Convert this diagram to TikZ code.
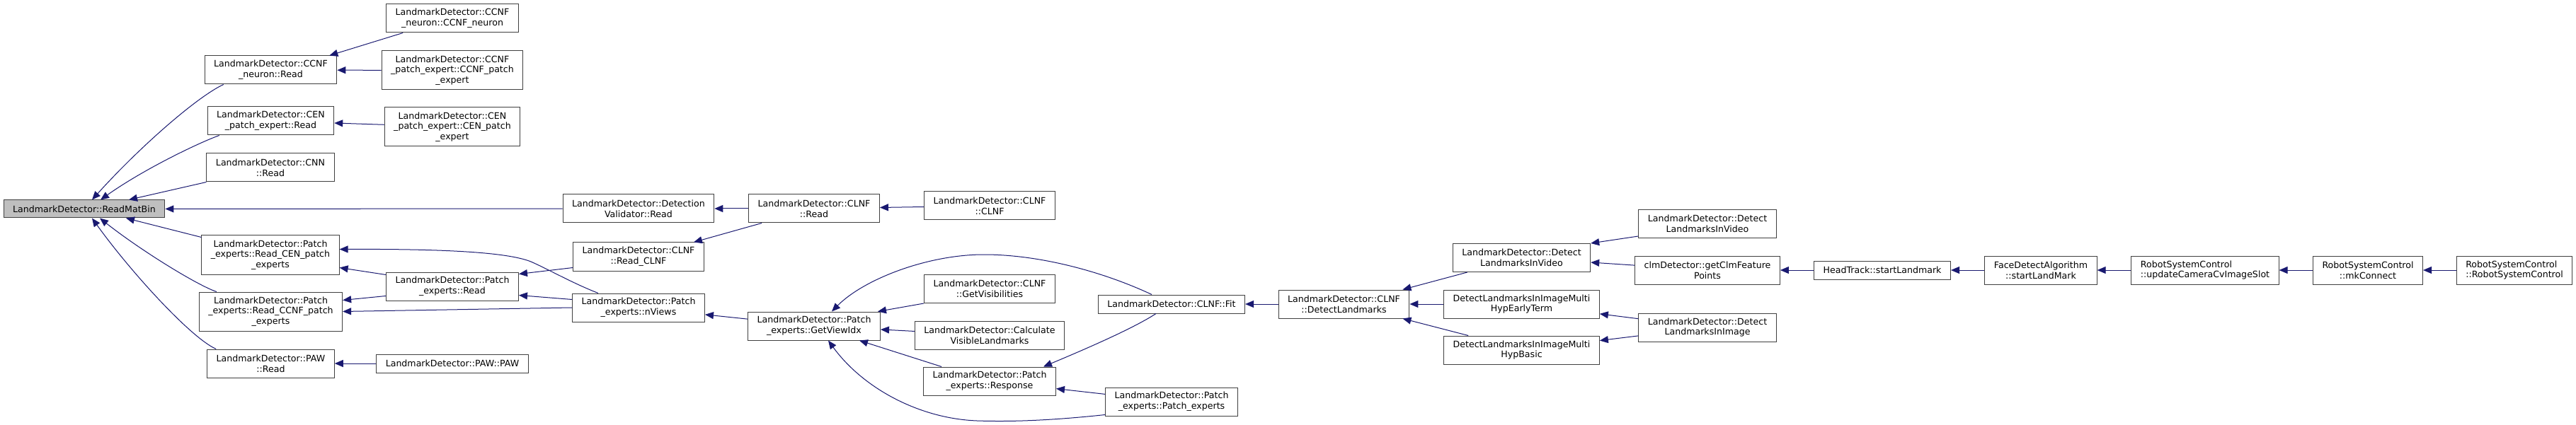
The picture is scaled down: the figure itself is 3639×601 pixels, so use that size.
\documentclass[tikz,border=0pt]{standalone}
\usepackage{fontspec}
\setmainfont{DejaVu Sans}
\usepackage{xcolor}
\usepackage{tikz}
\usetikzlibrary{arrows.meta, positioning}
\definecolor{edgeblue}{HTML}{191970}
\definecolor{boxline}{HTML}{404040}

\begin{document}
\begin{tikzpicture}[
                    x=1pt, y=-1pt,
                    box/.style={
                        draw=boxline,
                        fill=white,
                        line width=1pt,
                        minimum height=40pt,
                        inner xsep=13pt,
                        inner ysep=2pt,
                        align=center,
                        font=\fontsize{12.6}{14.7}\selectfont
                    },
                    onebox/.style={box, minimum height=26pt},
                    threebox/.style={box, minimum height=55pt},
                    mainbox/.style={box, minimum height=25pt, fill=black!25},
                    arrow/.style={
                        -{Triangle[length=12pt, width=10pt]},
                        draw=edgeblue,
                        line width=1pt
                    }
                ]
                \useasboundingbox (0,0) rectangle (3639,601);

                % Fonction appelée
                \node[mainbox] (readmat) at (119,295.5) {LandmarkDetector::ReadMatBin};

                % Colonne 1
                \node[box] (ccnfread) at (382.5,99) {LandmarkDetector::CCNF\\\_neuron::Read};
                \node[box] (cenread) at (382.5,171) {LandmarkDetector::CEN\\\_patch\_expert::Read};
                \node[box] (cnnread) at (382,237) {LandmarkDetector::CNN\\::Read};
                \node[threebox] (readcen) at (382,360.5) {LandmarkDetector::Patch\\\_experts::Read\_CEN\_patch\\\_experts};
                \node[threebox] (readccnf) at (382.5,440.5) {LandmarkDetector::Patch\\\_experts::Read\_CCNF\_patch\\\_experts};
                \node[box] (pawread) at (382.5,514) {LandmarkDetector::PAW\\::Read};

                % Colonne 2
                \node[box] (ccnfctor) at (639,26) {LandmarkDetector::CCNF\\\_neuron::CCNF\_neuron};
                \node[threebox] (ccnfpe) at (639,99.5) {LandmarkDetector::CCNF\\\_patch\_expert::CCNF\_patch\\\_expert};
                \node[threebox] (cenpe) at (639,179.5) {LandmarkDetector::CEN\\\_patch\_expert::CEN\_patch\\\_expert};
                \node[box] (pexread) at (639,405) {LandmarkDetector::Patch\\\_experts::Read};
                \node[onebox] (pawctor) at (639,514) {LandmarkDetector::PAW::PAW};

                % Colonne 3
                \node[box] (dvread) at (902,295) {LandmarkDetector::Detection\\Validator::Read};
                \node[box] (readclnf) at (902,363) {LandmarkDetector::CLNF\\::Read\_CLNF};
                \node[box] (nviews) at (902,435) {LandmarkDetector::Patch\\\_experts::nViews};

                % Colonne 4
                \node[box] (clnfread) at (1150,295) {LandmarkDetector::CLNF\\::Read};
                \node[box] (getviewidx) at (1150,461) {LandmarkDetector::Patch\\\_experts::GetViewIdx};

                % Colonne 5
                \node[box] (clnfctor) at (1398,291) {LandmarkDetector::CLNF\\::CLNF};
                \node[box] (getvis) at (1398,408.5) {LandmarkDetector::CLNF\\::GetVisibilities};
                \node[box] (calcvis) at (1398,474) {LandmarkDetector::Calculate\\VisibleLandmarks};
                \node[box] (response) at (1398,539) {LandmarkDetector::Patch\\\_experts::Response};

                % Colonne 6
                \node[onebox] (fit) at (1655,430) {LandmarkDetector::CLNF::Fit};
                \node[box] (pexctor) at (1655,568) {LandmarkDetector::Patch\\\_experts::Patch\_experts};

                % Colonnes 7 à 9
                \node[box] (detectlm) at (1898.5,430) {LandmarkDetector::CLNF\\::DetectLandmarks};
                \node[box] (dlvideo) at (2149.5,364.5) {LandmarkDetector::Detect\\LandmarksInVideo};
                \node[box] (mhearly) at (2149.5,430) {DetectLandmarksInImageMulti\\HypEarlyTerm};
                \node[box] (mhbasic) at (2149.5,495) {DetectLandmarksInImageMulti\\HypBasic};
                \node[box] (dlvideo2) at (2412,316.5) {LandmarkDetector::Detect\\LandmarksInVideo};
                \node[box] (getclm) at (2412,382) {clmDetector::getClmFeature\\Points};
                \node[box] (dlimage) at (2412,463) {LandmarkDetector::Detect\\LandmarksInImage};

                % Chaîne de droite
                \node[onebox] (headtrack) at (2659,382) {HeadTrack::startLandmark};
                \node[box] (facedetect) at (2883,382) {FaceDetectAlgorithm\\::startLandMark};
                \node[box, align=left] (updatecam) at (3115,382) {RobotSystemControl\\::updateCameraCvImageSlot};
                \node[box] (mkconnect) at (3345,382) {RobotSystemControl\\::mkConnect};
                \node[box, align=left] (rsctor) at (3552,382) {RobotSystemControl\\::RobotSystemControl};

                % Flèches vers ReadMatBin
                \draw[arrow] ([xshift=27pt]ccnfread.south west) .. controls (280,136) and (200,205) .. ([xshift=11pt]readmat.north);
                \draw[arrow] ([xshift=17pt]cenread.south west) .. controls (283,201) and (205,238) .. ([xshift=23pt]readmat.north);
                \draw[arrow] (cnnread.south west) -- ([xshift=63pt]readmat.north);
                \draw[arrow] (dvread) -- (readmat);
                \draw[arrow] ([yshift=-3pt]readcen.north west) -- ([xshift=59pt]readmat.south);
                \draw[arrow] ([xshift=25pt]readccnf.north west) .. controls (280,404) and (200,355) .. ([xshift=22pt]readmat.south);
                \draw[arrow] ([xshift=13pt]pawread.north west) .. controls (270,478) and (185,385) .. ([xshift=11pt]readmat.south);

                % Flèches colonne 2
                \draw[arrow] ([xshift=24pt]ccnfctor.south west) -- ([xshift=-11pt]ccnfread.north east);
                \draw[arrow] (ccnfpe) -- (ccnfread);
                \draw[arrow] (cenpe) -- (cenread);
                \draw[arrow] ([xshift=-57pt]nviews.north) .. controls (810,401) and (775,381) .. (750,370) .. controls (715,356) and (620,352) .. ([yshift=8pt]readcen.east);
                \draw[arrow] ([yshift=-4pt]pexread.north west) -- ([yshift=10pt]readcen.south east);
                \draw[arrow] ([yshift=7pt]pexread.south west) -- ([yshift=-12pt]readccnf.north east);
                \draw[arrow] (nviews.west) -- (readccnf.east);
                \draw[arrow] (pawctor) -- (pawread);

                % Flèches colonnes 3 et 4
                \draw[arrow] (clnfread) -- (dvread);
                \draw[arrow] ([yshift=5pt]readclnf.south west) -- ([yshift=-3pt]pexread.north east);
                \draw[arrow] ([yshift=-9pt]nviews.north west) -- ([yshift=8pt]pexread.south east);
                \draw[arrow] ([xshift=19pt]clnfread.south west) -- ([xshift=-15pt]readclnf.north east);
                \draw[arrow] (clnfctor) -- (clnfread);
                \draw[arrow] (getviewidx) -- (nviews);

                % Flèches vers GetViewIdx et Response
                \draw[arrow] ([xshift=-28pt]fit.north) .. controls (1560,385) and (1470,360) .. (1390,360) .. controls (1310,360) and (1220,395) .. ([xshift=25pt]getviewidx.north);
                \draw[arrow] (getvis.south west) -- ([xshift=-4pt]getviewidx.north east);
                \draw[arrow] (calcvis) -- (getviewidx);
                \draw[arrow] ([xshift=26pt]response.north west) -- ([xshift=64pt]getviewidx.south);
                \draw[arrow] ([yshift=2pt]pexctor.south west) .. controls (1500,593) and (1440,597) .. (1380,595) .. controls (1300,592) and (1220,550) .. ([xshift=20pt]getviewidx.south);
                \draw[arrow] ([xshift=-22pt]fit.south) .. controls (1600,465) and (1530,495) .. ([xshift=-18pt]response.north east);
                \draw[arrow] (pexctor) -- (response);

                % Flèches vers DetectLandmarks
                \draw[arrow] (detectlm) -- (fit);
                \draw[arrow] ([xshift=21pt]dlvideo.south west) -- ([xshift=-10pt]detectlm.north east);
                \draw[arrow] (mhearly) -- (detectlm);
                \draw[arrow] ([xshift=35pt]mhbasic.north west) -- ([xshift=-10pt]detectlm.south east);
                \draw[arrow] ([yshift=3pt]dlvideo2.south west) -- (dlvideo.north east);
                \draw[arrow] (getclm) -- (dlvideo);
                \draw[arrow] (dlimage) -- (mhearly);
                \draw[arrow] (dlimage) -- (mhbasic);

                % Chaîne RobotSystemControl
                \draw[arrow] (headtrack) -- (getclm);
                \draw[arrow] (facedetect) -- (headtrack);
                \draw[arrow] (updatecam) -- (facedetect);
                \draw[arrow] (mkconnect) -- (updatecam);
                \draw[arrow] (rsctor) -- (mkconnect);

            \end{tikzpicture}
\end{document}
